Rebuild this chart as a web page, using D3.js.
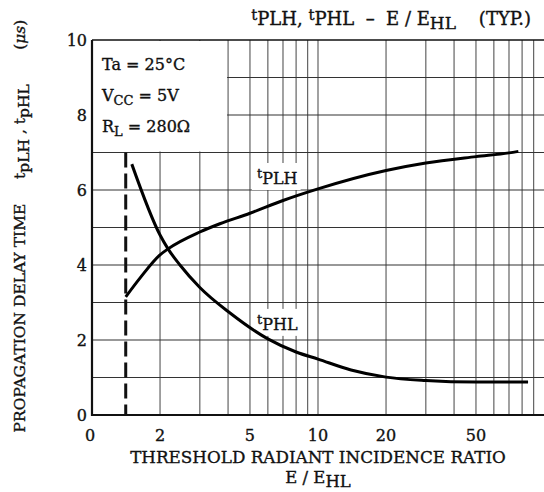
<!DOCTYPE html>
<html>
<head>
<meta charset="utf-8">
<script src="https://cdn.jsdelivr.net/npm/d3@7"></script>
<style>
  body { margin: 0; background: #fff; }
  text { font-family: "DejaVu Serif", "Liberation Serif", serif; fill: #111;
         stroke: #111; stroke-width: 0.35; white-space: pre; }
</style>
</head>
<body>
<svg id="chart" width="544" height="492"></svg>
<script>
// values
var xPLH = [1.41, 1.63, 2, 2.17, 3, 3.68, 5, 7, 10, 20, 30, 50, 70, 77]
var tPLH = [3.15, 3.65, 4.27, 4.43, 4.88, 5.1, 5.38, 5.72, 6.03, 6.52, 6.72, 6.89, 6.99, 7.03]
var xPHL = [1.5, 2, 2.17, 2.45, 3, 4.08, 6, 8, 10, 14, 20, 30, 50, 85]
var tPHL = [6.69, 4.8, 4.43, 4.0, 3.4, 2.72, 2.03, 1.68, 1.49, 1.2, 1.01, 0.92, 0.88, 0.88]
var xGrid = [2, 3, 4, 5, 6, 7, 8, 9, 10, 20, 30, 40, 50, 60, 70, 80, 90]
var yGrid = [1, 2, 3, 4, 5, 6, 7, 8, 9]
var xTicks = [2, 5, 10, 20, 50]
var yTicks = [0, 2, 4, 6, 8, 10]
var threshold = 1.41

var svg = d3.select("#chart")
var pLeft = 92, pRight = 544, pTop = 40, pBottom = 415

var x = d3.scaleLog().domain([1, 100]).range([pLeft, pRight])
var y = d3.scaleLinear().domain([0, 10]).range([pBottom, pTop])

// grid
svg.selectAll(".vgrid").data(xGrid).enter().append("line")
    .attr("x1", d => x(d)).attr("x2", d => x(d))
    .attr("y1", pTop).attr("y2", pBottom)
    .attr("stroke", "#555").attr("stroke-width", 1.1)
svg.selectAll(".hgrid").data(yGrid).enter().append("line")
    .attr("x1", pLeft).attr("x2", pRight)
    .attr("y1", d => y(d)).attr("y2", d => y(d))
    .attr("stroke", "#333").attr("stroke-width", 1.1)

// blank box for conditions
svg.append("rect")
    .attr("x", pLeft + 1).attr("y", pTop + 1)
    .attr("width", x(4) - pLeft - 2).attr("height", y(7) - pTop - 2)
    .attr("fill", "#fff")

// frame
svg.append("line").attr("x1", pLeft).attr("x2", pRight).attr("y1", pTop).attr("y2", pTop)
    .attr("stroke", "#111").attr("stroke-width", 1.5)
svg.append("line").attr("x1", pLeft).attr("x2", pLeft).attr("y1", pTop).attr("y2", pBottom + 1)
    .attr("stroke", "#111").attr("stroke-width", 2.2)
svg.append("line").attr("x1", pLeft - 1).attr("x2", pRight).attr("y1", pBottom).attr("y2", pBottom)
    .attr("stroke", "#111").attr("stroke-width", 2.2)

// tick labels
svg.selectAll(".ylab").data(yTicks).enter().append("text")
    .attr("x", pLeft - 5).attr("y", d => y(d) + 6)
    .attr("text-anchor", "end").attr("font-size", 16)
    .text(d => d)
svg.selectAll(".xlab").data(xTicks).enter().append("text")
    .attr("x", d => x(d)).attr("y", pBottom + 26)
    .attr("text-anchor", "middle").attr("font-size", 16)
    .text(d => d)
svg.append("text").attr("x", pLeft - 2).attr("y", pBottom + 26)
    .attr("text-anchor", "middle").attr("font-size", 16).text("0")

// curve labels with white background (drawn under the curves)
function curveLabel(px, py, sub){
  var g = svg.append("g")
  var bg = g.append("rect").attr("fill", "#fff")
  var t = g.append("text").attr("x", px).attr("y", py).attr("font-size", 16)
  t.append("tspan").attr("font-size", 13).attr("dy", -6).text("t")
  t.append("tspan").attr("dy", 6).text(sub)
  var b = t.node().getBBox()
  bg.attr("x", b.x - 5).attr("y", b.y - 3).attr("width", b.width + 8).attr("height", b.height + 5)
}
curveLabel(x(5.37), y(6.16), "PLH")
curveLabel(x(5.37), y(2.27), "PHL")

// dashed threshold line
svg.append("line")
    .attr("x1", x(threshold)).attr("x2", x(threshold))
    .attr("y1", y(7)).attr("y2", pBottom)
    .attr("stroke", "#111").attr("stroke-width", 3)
    .attr("stroke-dasharray", "15,6")

// curves
var line = d3.line().curve(d3.curveMonotoneX)
function pts(xs, ys){ return xs.map((v, i) => [x(v), y(ys[i])]) }
svg.append("path").attr("d", line(pts(xPLH, tPLH)))
    .attr("fill", "none").attr("stroke", "#000").attr("stroke-width", 3)
svg.append("path").attr("d", line(pts(xPHL, tPHL)))
    .attr("fill", "none").attr("stroke", "#000").attr("stroke-width", 3)

// conditions
var cond = svg.append("g").attr("font-size", 16)
var c1 = cond.append("text").attr("x", pLeft + 10).attr("y", pTop + 30)
c1.text("Ta = 25°C")
var c2 = cond.append("text").attr("x", pLeft + 10).attr("y", pTop + 61)
c2.append("tspan").text("V")
c2.append("tspan").attr("dy", 4).attr("font-size", 13).text("CC")
c2.append("tspan").attr("dy", -4).text(" = 5V")
var c3 = cond.append("text").attr("x", pLeft + 10).attr("y", pTop + 92)
c3.append("tspan").text("R")
c3.append("tspan").attr("dy", 4).attr("font-size", 13).text("L")
c3.append("tspan").attr("dy", -4).text(" = 280Ω")

// title
var title = svg.append("text").attr("x", 531).attr("y", 25)
    .attr("text-anchor", "end").attr("font-size", 18)
title.append("tspan").attr("font-size", 15).attr("dy", -5).text("t")
title.append("tspan").attr("dy", 5).text("PLH, ")
title.append("tspan").attr("font-size", 15).attr("dy", -5).text("t")
title.append("tspan").attr("dy", 5).text("PHL  \u2013  E / E")
title.append("tspan").attr("dy", 4).attr("font-size", 17).text("HL")
title.append("tspan").attr("dy", -4).text("    (TYP.)")

// x axis title
svg.append("text").attr("x", 318).attr("y", 463)
    .attr("text-anchor", "middle").attr("font-size", 16.8)
    .text("THRESHOLD RADIANT INCIDENCE RATIO")
var xt2 = svg.append("text").attr("x", 318).attr("y", 483)
    .attr("text-anchor", "middle").attr("font-size", 16.5)
xt2.append("tspan").text("E / E")
xt2.append("tspan").attr("dy", 4).text("HL")

// y axis title
var yt = svg.append("text")
    .attr("transform", "translate(25," + 226 + ") rotate(-90)")
    .attr("text-anchor", "middle").attr("font-size", 15.5)
yt.append("tspan").text("PROPAGATION DELAY TIME     t")
yt.append("tspan").attr("dy", 4).text("pLH")
yt.append("tspan").attr("dy", -4).text(" , t")
yt.append("tspan").attr("dy", 4).text("pHL")
yt.append("tspan").attr("dy", -4).text("       (")
yt.append("tspan").attr("font-style", "italic").text("μs")
yt.append("tspan").text(")")
</script>
</body>
</html>
